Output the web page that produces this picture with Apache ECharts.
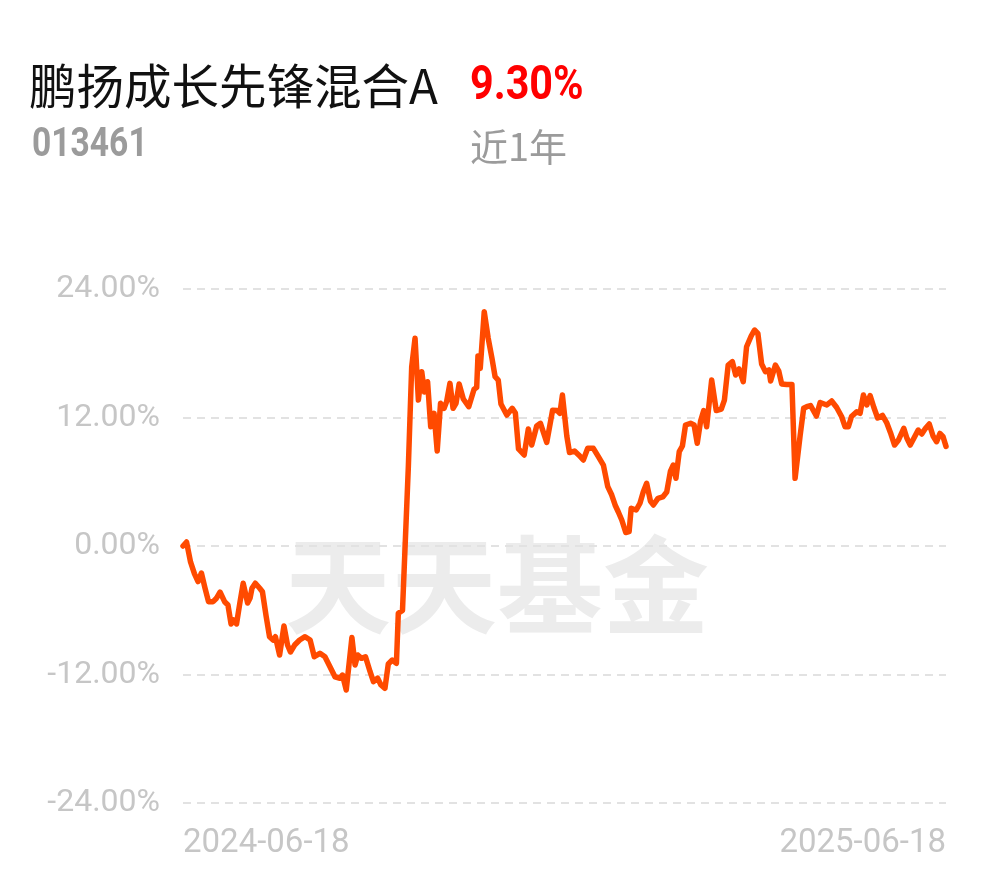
<!DOCTYPE html>
<html>
<head>
<meta charset="utf-8">
<script src="https://cdn.jsdelivr.net/npm/echarts@6/dist/echarts.min.js"></script>
<style>
html,body{margin:0;padding:0;background:#fff;}
#chart{width:990px;height:878px;}
</style>
</head>
<body>
<div id="chart"></div>
<script>
// ---- data ----
var fundName = '鹏扬成长先锋混合A';
var fundCode = '013461';
var periodReturn = '9.30%';
var periodLabel = '近1年';
var watermark = '天天基金';
var xTickLabels = ['2024-06-18', '2025-06-18'];
var yTicks = [-24, -12, 0, 12, 24];
// days since 2024-06-18
var days = [0.0,1.7,3.6,5.5,7.2,8.8,10.5,12.2,14.4,16.0,17.7,19.9,21.5,23.0,24.2,25.6,27.3,28.8,30.9,32.1,33.0,34.6,36.7,38.0,39.8,41.4,43.1,44.2,46.2,48.3,50.0,51.4,53.4,55.8,58.4,60.8,62.8,65.5,67.9,70.3,72.7,75.1,76.3,78.1,80.8,82.3,83.6,85.4,87.3,89.5,91.1,93.1,94.7,96.6,98.2,100.1,102.1,103.0,105.0,107.8,109.4,111.0,112.6,114.2,115.5,117.0,118.5,120.1,121.6,123.2,124.9,126.1,127.7,129.2,130.6,132.1,134.1,136.7,139.2,140.5,141.1,142.2,144.1,146.0,147.8,149.3,150.8,152.1,154.9,157.5,159.0,160.5,163.2,165.2,166.8,169.2,171.0,174.0,176.8,179.0,180.3,181.5,183.6,184.9,187.3,189.3,191.5,193.6,196.3,198.7,201.1,203.2,205.1,206.7,208.2,209.9,211.8,213.4,214.4,216.8,218.6,220.2,221.8,223.6,225.0,227.2,229.5,231.4,233.2,234.5,235.8,237.4,238.9,240.4,242.8,244.5,246.0,247.6,249.1,250.5,252.9,255.1,257.5,259.0,260.8,262.8,264.4,266.0,268.0,269.6,271.8,273.4,275.0,276.8,278.6,280.3,281.1,283.4,285.0,286.4,288.8,291.3,292.8,295.2,296.9,298.4,300.2,303.0,304.8,308.0,310.3,312.7,315.1,316.7,318.3,319.8,322.3,323.9,325.5,327.1,328.7,330.5,332.3,334.6,336.6,338.4,340.4,342.3,344.8,346.3,347.9,349.5,351.7,353.4,355.2,357.0,358.8,360.5,362.1,363.6,365.0];
// cumulative return, %
var returns = [0.00,0.37,-1.49,-2.61,-3.32,-2.52,-3.92,-5.20,-5.20,-4.88,-4.30,-5.20,-5.51,-7.28,-6.91,-7.28,-5.20,-3.48,-5.32,-4.86,-3.95,-3.48,-3.95,-4.27,-6.60,-8.47,-8.78,-8.47,-10.18,-7.47,-9.25,-9.90,-9.25,-8.78,-8.47,-8.78,-10.34,-10.02,-10.34,-11.27,-12.21,-12.35,-12.05,-13.45,-8.54,-11.11,-10.18,-10.49,-10.34,-11.74,-12.67,-12.35,-12.98,-13.29,-11.02,-10.65,-10.95,-6.28,-6.02,7.41,16.74,19.40,13.63,16.28,14.38,15.34,11.14,12.39,8.87,13.33,12.86,13.48,15.19,12.86,13.33,15.13,13.73,13.01,14.62,14.82,17.74,16.59,21.88,19.40,17.53,15.81,15.50,13.26,12.23,12.86,12.42,9.06,8.50,10.93,9.43,11.21,11.46,9.67,12.67,12.65,12.39,14.10,10.27,8.73,8.87,8.50,8.03,9.12,9.12,8.34,7.56,5.54,4.76,3.83,3.20,2.43,1.26,1.34,3.52,3.36,3.99,5.07,5.86,4.20,3.83,4.45,4.58,5.04,7.00,7.56,6.32,8.81,9.34,11.30,11.46,11.30,9.59,11.67,12.65,11.14,15.50,12.65,12.79,13.63,16.90,17.21,15.97,16.53,15.34,18.61,19.61,20.17,19.86,17.00,16.28,16.44,15.41,16.90,16.34,15.13,15.08,15.08,6.32,10.27,12.86,13.01,13.12,12.14,13.40,13.17,13.54,12.93,12.07,11.14,11.14,12.09,12.54,12.39,14.10,13.17,14.05,12.93,11.95,12.19,11.53,10.60,9.43,9.90,10.99,10.06,9.43,10.01,10.83,10.46,10.99,11.39,10.27,9.74,10.51,10.21,9.30];

// ---- chart ----
var seriesData = days.map(function (d, i) { return [d, returns[i]]; });
var chart = echarts.init(document.getElementById('chart'), null, {renderer: 'canvas'});
var axisFont = 'Roboto, "Noto Sans", sans-serif';
var cjkFont = '"Noto Sans CJK SC", "Noto Sans", sans-serif';
var narrowFont = 'Roboto, sans-serif';

chart.setOption({
  animation: false,
  backgroundColor: '#ffffff',
  grid: {left: 183, right: 44, top: 289, bottom: 75, containLabel: false},
  xAxis: {
    type: 'value',
    min: 0,
    max: 365,
    interval: 365,
    axisLine: {show: false},
    axisTick: {show: false},
    splitLine: {show: false},
    axisLabel: {
      color: '#c6c6c6',
      fontSize: 33,
      fontFamily: axisFont,
      margin: 24,
      alignMinLabel: 'left',
      alignMaxLabel: 'right',
      formatter: function (v) {
        if (v === 0) return xTickLabels[0];
        if (v === 365) return xTickLabels[1];
        return '';
      }
    }
  },
  yAxis: {
    type: 'value',
    min: yTicks[0],
    max: yTicks[yTicks.length - 1],
    interval: 12,
    axisLine: {show: false},
    axisTick: {show: false},
    axisLabel: {
      color: '#c6c6c6',
      fontSize: 32,
      fontFamily: axisFont,
      margin: 23,
      formatter: function (v) { return v.toFixed(2) + '%'; }
    },
    splitLine: {
      show: true,
      lineStyle: {color: '#e2e2e2', width: 2, type: [8, 6]}
    }
  },
  graphic: [
    {type: 'text', left: 285, top: 532, z: -10, silent: true,
     style: {text: watermark, fill: '#ececec', font: 'bold 106px ' + cjkFont}},
    {type: 'text', x: 29, y: 86, style: {text: fundName, fill: '#111111', font: '47.5px ' + cjkFont, verticalAlign: 'middle'}},
    {type: 'text', x: 470, y: 87, scaleX: 0.86, style: {text: periodReturn, fill: '#ff0000', font: 'bold 48px ' + narrowFont, verticalAlign: 'middle'}},
    {type: 'text', x: 32, y: 146, scaleX: 0.84, style: {text: fundCode, fill: '#9b9b9b', font: 'bold 40px ' + narrowFont, verticalAlign: 'middle'}},
    {type: 'text', x: 470, y: 147, style: {text: periodLabel, fill: '#9b9b9b', font: '38px ' + cjkFont, verticalAlign: 'middle'}}
  ],
  series: [{
    type: 'line',
    data: seriesData,
    showSymbol: false,
    symbol: 'none',
    smooth: false,
    z: 5,
    lineStyle: {color: '#ff4a00', width: 5.5, join: 'round', cap: 'round'}
  }]
});
</script>
</body>
</html>
